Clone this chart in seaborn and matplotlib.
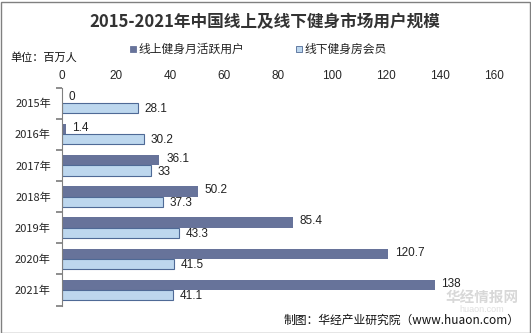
import matplotlib
matplotlib.use("Agg")
import matplotlib.pyplot as plt
import seaborn as sns
import pandas as pd
from matplotlib.patches import Rectangle

years = ["2015年", "2016年", "2017年", "2018年", "2019年", "2020年", "2021年"]
online = [0, 1.4, 36.1, 50.2, 85.4, 120.7, 138]
offline = [28.1, 30.2, 33, 37.3, 43.3, 41.5, 41.1]
series = ["线上健身月活跃用户", "线下健身房会员"]
xticks = [0, 20, 40, 60, 80, 100, 120, 140, 160]

df = pd.DataFrame({
    "year": years * 2,
    "value": online + offline,
    "series": [series[0]] * len(years) + [series[1]] * len(years),
})

sns.set_theme(style="white")
plt.rcParams['font.family'] = ['Noto Sans CJK SC', 'DejaVu Sans']

W, H = 531, 333
fig = plt.figure(figsize=(W / 100, H / 100), dpi=100)
ax = fig.add_axes([62 / W, 1 - 305.5 / H, (494 - 62) / W, (305.5 - 87.5) / H])

dark = "#67739A"
light = "#BDD7EE"
sns.barplot(data=df, y="year", x="value", hue="series", orient="h",
            palette=[dark, light], width=0.66, ax=ax, legend=False,
            saturation=1)

for i, p in enumerate(ax.patches[:len(years) * 2]):
    if i >= len(years):
        p.set_edgecolor("#4F6A96")
        p.set_linewidth(0.8)
    else:
        p.set_edgecolor("none")

# value labels
for i, v in enumerate(online):
    ax.text(v + 2.5, i - 0.2, f"{v:g}", va="center", ha="left", fontsize=8.5, color="#222222",
            family=['Liberation Sans', 'DejaVu Sans'])
for i, v in enumerate(offline):
    ax.text(v + 2.5, i + 0.2, f"{v:g}", va="center", ha="left", fontsize=8.5, color="#222222",
            family=['Liberation Sans', 'DejaVu Sans'])

ax.set_xlim(0, 160)
ax.set_xticks(xticks)
ax.xaxis.tick_top()
ax.tick_params(axis="x", length=0, labelsize=8.5, pad=4)
ax.set_xticklabels([str(t) for t in xticks], family=['Liberation Sans', 'DejaVu Sans'])
ax.set_ylim(len(years) - 0.5, -0.5)
ax.set_yticks([i - 0.5 for i in range(len(years) + 1)], minor=False)
ax.set_yticklabels([])
ax.set_yticks(range(len(years)), minor=True)
ax.set_yticklabels(years, minor=True, fontsize=8)
ax.tick_params(axis="y", which="major", length=4, direction="out", color="#808080", left=True)
ax.tick_params(axis="y", which="minor", length=0, pad=8)
ax.set_xlabel("")
ax.set_ylabel("")
for s in ["top", "right", "bottom"]:
    ax.spines[s].set_visible(False)
ax.spines["left"].set_color("#808080")
ax.spines["left"].set_linewidth(0.8)
ax.grid(False)

# title
fig.text(265 / W, 1 - 22 / H, "2015-2021年中国线上及线下健身市场用户规模", ha="center", va="center",
         fontsize=12, fontweight="bold", color="#333333")
# unit
fig.text(10 / W, 1 - 58 / H, "单位：百万人", ha="left", va="center", fontsize=8, color="#111111")

# legend
for (x0, name, col, ec) in [(130, series[0], dark, dark), (296, series[1], light, "#4F6A96")]:
    fig.patches.append(Rectangle((x0 / W, 1 - 52 / H), 6 / W, 6 / H, transform=fig.transFigure,
                                 facecolor=col, edgecolor=ec, linewidth=0.6))
    fig.text((x0 + 8) / W, 1 - 49 / H, name, ha="left", va="center", fontsize=8.5, color="#222222")

# watermark
fig.text(482 / W, 1 - 297 / H, "华经情报网", ha="center", va="center", fontsize=10.5,
         fontweight="bold", color="#cfcfcf", alpha=0.8)
fig.text(482 / W, 1 - 309 / H, "huaon.com", ha="center", va="center", fontsize=6.5,
         color="#d8d8d8", alpha=0.8, family=['Liberation Sans', 'DejaVu Sans'])

# source
fig.text(520 / W, 1 - 320 / H, "制图：华经产业研究院（www.huaon.com）", ha="right", va="center",
         fontsize=8.5, color="#111111")

# border
fig.patches.append(Rectangle((0.5 / W, 0.5 / H), (W - 2) / W, (H - 2) / H, transform=fig.transFigure,
                             facecolor="none", edgecolor="#808080", linewidth=1))

fig.savefig("out.png", dpi=100)
